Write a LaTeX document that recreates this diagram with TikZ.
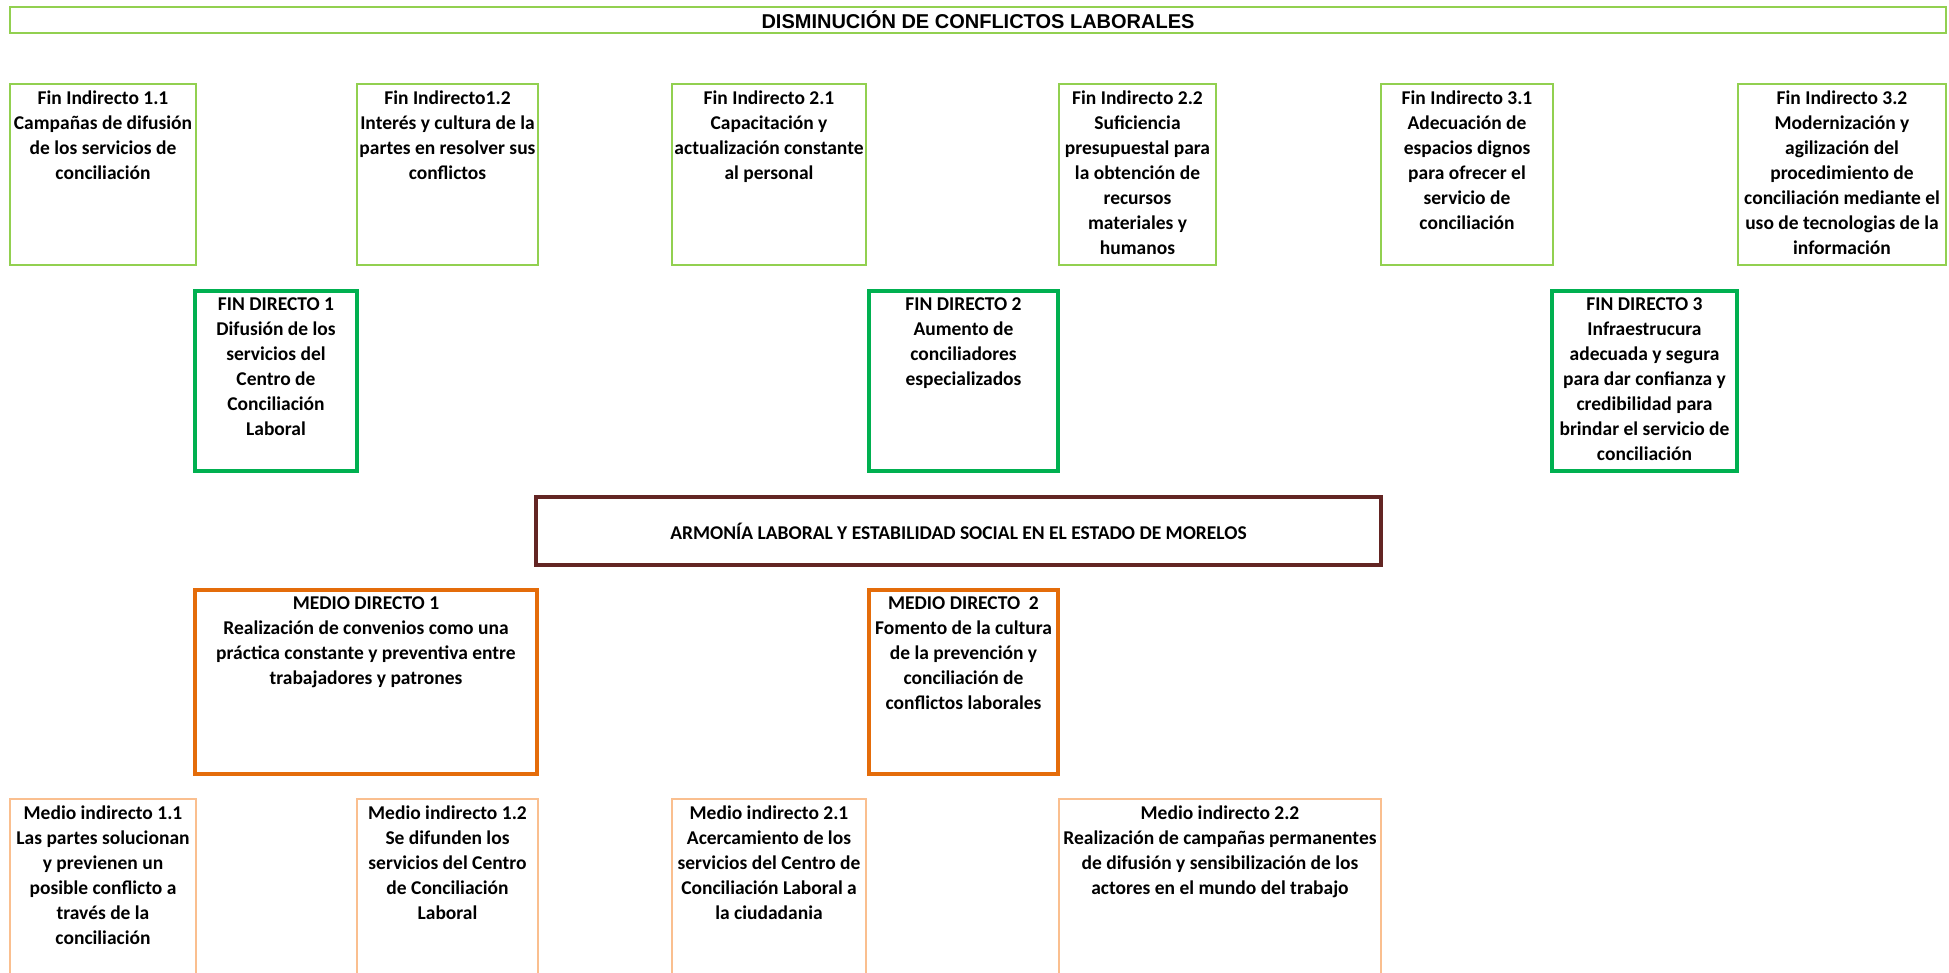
\documentclass[tikz,border=0pt]{standalone}
\usepackage{fontspec}
\setmainfont{Carlito}
\newfontfamily\arialfont{Liberation Sans}
\definecolor{verdeclaro}{HTML}{92D050}
\definecolor{verde}{HTML}{00B050}
\definecolor{vino}{HTML}{632523}
\definecolor{naranja}{HTML}{E46C0A}
\definecolor{naranjaclaro}{HTML}{FABF8F}
\begin{document}
\begin{tikzpicture}[x=1pt,y=-1pt,
	caja/.style={rectangle, anchor=north west, inner sep=0pt, outer sep=0pt},
	fi/.style={caja, draw=verdeclaro, line width=2pt},
	fd/.style={caja, draw=verde, line width=4pt},
	md/.style={caja, draw=naranja, line width=4pt},
	mi/.style={caja, draw=naranjaclaro, line width=2pt},
	txt/.style={anchor=north, align=center, inner sep=7pt, font=\bfseries\fontsize{19.5}{25}\selectfont}]
		\useasboundingbox (0,0) rectangle (1949,973);
		\clip (0,0) rectangle (1949,973);
		\node (titulo) [fi, minimum width=1936, minimum height=26, font=\arialfont\bfseries\fontsize{20}{24}\selectfont] at (10,7) {DISMINUCIÓN DE CONFLICTOS LABORALES};
		\node (fi11) [fi, minimum width=186, minimum height=181] at (10,84) {};
		\node (fi12) [fi, minimum width=181, minimum height=181] at (357,84) {};
		\node (fi21) [fi, minimum width=194, minimum height=181] at (672,84) {};
		\node (fi22) [fi, minimum width=157, minimum height=181] at (1059,84) {};
		\node (fi31) [fi, minimum width=172, minimum height=181] at (1381,84) {};
		\node (fi32) [fi, minimum width=208, minimum height=181] at (1738,84) {};
		\node (fd1) [fd, minimum width=162, minimum height=180] at (195,291) {};
		\node (fd2) [fd, minimum width=189, minimum height=180] at (869,291) {};
		\node (fd3) [fd, minimum width=185, minimum height=180] at (1552,291) {};
		\node (arm) [caja, draw=vino, line width=4pt, minimum width=845, minimum height=68, font=\bfseries\fontsize{19.5}{25}\selectfont] at (536,497) {ARMONÍA LABORAL Y ESTABILIDAD SOCIAL EN EL ESTADO DE MORELOS};
		\node (md1) [md, minimum width=342, minimum height=184] at (195,590) {};
		\node (md2) [md, minimum width=189, minimum height=184] at (869,590) {};
		\node (mi11) [mi, minimum width=186, minimum height=200] at (10,799) {};
		\node (mi12) [mi, minimum width=181, minimum height=200] at (357,799) {};
		\node (mi21) [mi, minimum width=194, minimum height=200] at (672,799) {};
		\node (mi22) [mi, minimum width=322, minimum height=200] at (1059,799) {};
		\node (fi11t) [txt] at (fi11.north) {Fin Indirecto 1.1\\Campañas de difusión\\de los servicios de\\conciliación};
		\node (fi12t) [txt] at (fi12.north) {Fin Indirecto1.2\\Interés y cultura de la\\partes en resolver sus\\conflictos};
		\node (fi21t) [txt] at (fi21.north) {Fin Indirecto 2.1\\Capacitación y\\actualización constante\\al personal};
		\node (fi22t) [txt] at (fi22.north) {Fin Indirecto 2.2\\Suficiencia\\presupuestal para\\la obtención de\\recursos\\materiales y\\humanos};
		\node (fi31t) [txt] at (fi31.north) {Fin Indirecto 3.1\\Adecuación de\\espacios dignos\\para ofrecer el\\servicio de\\conciliación};
		\node (fi32t) [txt] at (fi32.north) {Fin Indirecto 3.2\\Modernización y\\agilización del\\procedimiento de\\conciliación mediante el\\uso de tecnologias de la\\información};
		\node (fd1t) [txt] at (fd1.north) {FIN DIRECTO 1\\Difusión de los\\servicios del\\Centro de\\Conciliación\\Laboral};
		\node (fd2t) [txt] at (fd2.north) {FIN DIRECTO 2\\Aumento de\\conciliadores\\especializados};
		\node (fd3t) [txt] at (fd3.north) {FIN DIRECTO 3\\Infraestrucura\\adecuada y segura\\para dar confianza y\\credibilidad para\\brindar el servicio de\\conciliación};
		\node (md1t) [txt] at (md1.north) {MEDIO DIRECTO 1\\Realización de convenios como una\\práctica constante y preventiva entre\\trabajadores y patrones};
		\node (md2t) [txt] at (md2.north) {MEDIO DIRECTO\ \ 2\\Fomento de la cultura\\de la prevención y\\conciliación de\\conflictos laborales};
		\node (mi11t) [txt] at (mi11.north) {Medio indirecto 1.1\\Las partes solucionan\\y previenen un\\posible conflicto a\\través de la\\conciliación};
		\node (mi12t) [txt] at (mi12.north) {Medio indirecto 1.2\\Se difunden los\\servicios del Centro\\de Conciliación\\Laboral};
		\node (mi21t) [txt] at (mi21.north) {Medio indirecto 2.1\\Acercamiento de los\\servicios del Centro de\\Conciliación Laboral a\\la ciudadania};
		\node (mi22t) [txt] at (mi22.north) {Medio indirecto 2.2\\Realización de campañas permanentes\\de difusión y sensibilización de los\\actores en el mundo del trabajo};
\end{tikzpicture}
\end{document}
